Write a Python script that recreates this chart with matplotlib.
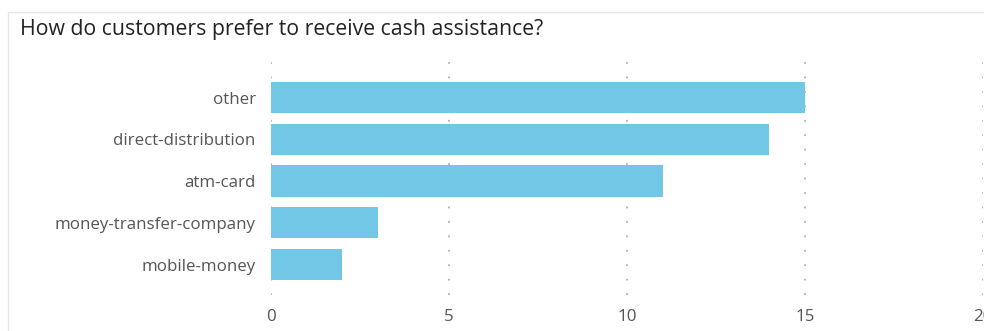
import matplotlib
matplotlib.use("Agg")
import matplotlib.pyplot as plt
from matplotlib.patches import Rectangle

categories = ["other", "direct-distribution", "atm-card", "money-transfer-company", "mobile-money"]
values = [15, 14, 11, 3, 2]
xticks = [0, 5, 10, 15, 20]

W, H = 984, 331
fig = plt.figure(figsize=(W / 100, H / 100), dpi=100)
plt.rcParams['font.family'] = ['Open Sans', 'DejaVu Sans']

# outer light border
fig.add_artist(Rectangle((8 / W, -0.1), 1.2, (H - 12) / H + 0.1, transform=fig.transFigure,
                         fill=False, edgecolor="#e6e6e6", linewidth=1))

ax = fig.add_axes([271 / W, 1 - 295 / H, (983 - 271) / W, (295 - 60) / H])
pos = list(range(len(categories)))
ax.barh(pos, values, height=0.75, color="#72c6e6", zorder=2)
ax.set_ylim(4.73, -0.9)
ax.set_xlim(0, 20)
ax.set_xticks(xticks)
ax.set_xticklabels([str(t) for t in xticks])
ax.set_yticks(pos)
ax.set_yticklabels(categories)
for s in ax.spines.values():
    s.set_visible(False)
ax.tick_params(axis="both", length=0, labelsize=12.2, labelcolor="#555555")
ax.tick_params(axis="x", pad=10)
ax.tick_params(axis="y", pad=11)
ax.grid(axis="x", color="#b0b0b0", linestyle=(0, (1, 7)), linewidth=1.3, zorder=0)
ax.set_axisbelow(True)

fig.text(20 / W, 1 - 29 / H, "How do customers prefer to receive cash assistance?",
         fontsize=15.3, color="#222222", va="center", ha="left")

fig.savefig("out.png", dpi=100)
